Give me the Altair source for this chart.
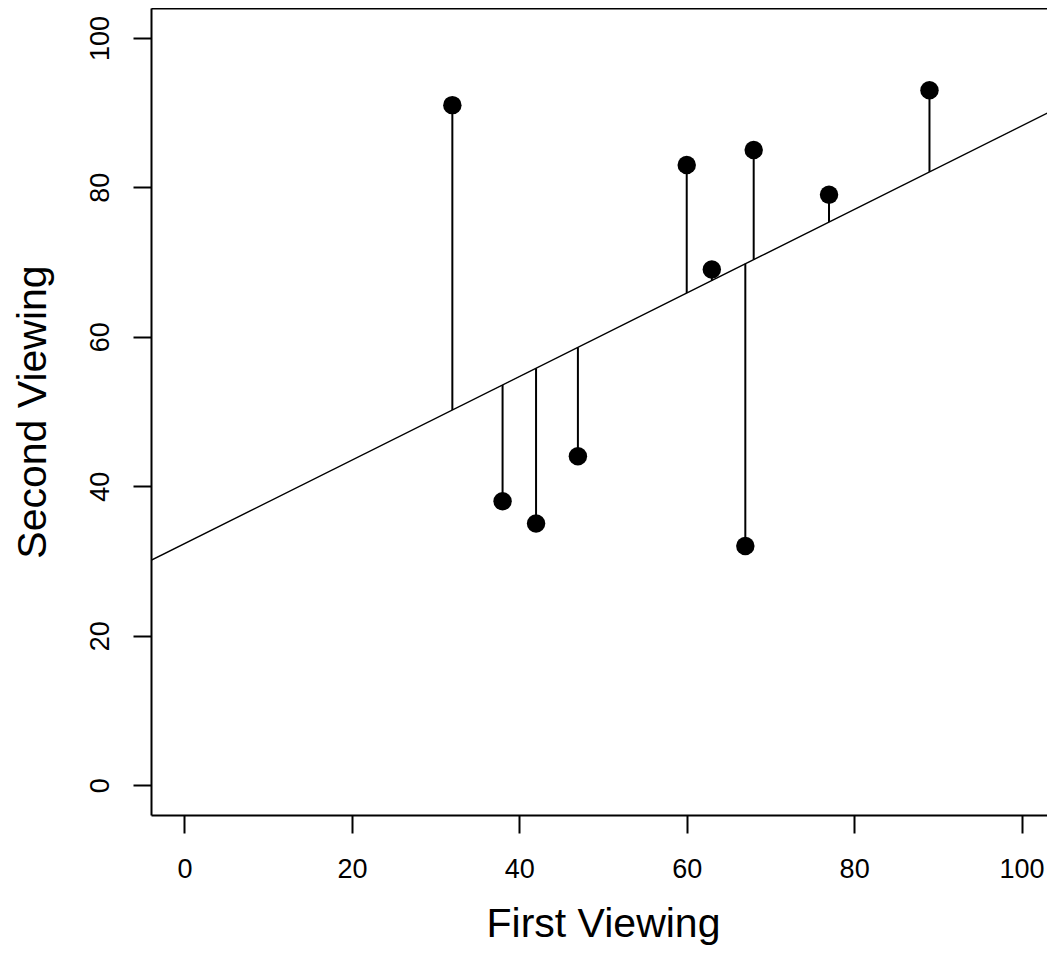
import altair as alt
import pandas as pd
import numpy as np

# Data
first_viewing = [32, 38, 42, 47, 60, 63, 67, 68, 77, 89]
second_viewing = [91, 38, 35, 44, 83, 69, 32, 85, 79, 93]
axis_ticks = [0, 20, 40, 60, 80, 100]
y_limits = [-4, 104]
x_limits = [-4, 103.04]   # plot is cut at the right window edge in the reference
line_extent = [-4, 104]

# Least-squares fit (as abline(lm(...)) in the original)
slope, intercept = np.polyfit(first_viewing, second_viewing, 1)
pts = pd.DataFrame({"x": first_viewing, "y": second_viewing})
pts["fit"] = intercept + slope * pts["x"]
line_df = pd.DataFrame({"x": line_extent})
line_df["fit"] = intercept + slope * line_df["x"]

FONT = "Liberation Sans"

xscale = alt.Scale(domain=x_limits, nice=False, zero=False)
yscale = alt.Scale(domain=y_limits, nice=False, zero=False)

xaxis = alt.Axis(
    values=axis_ticks, title="First Viewing", grid=False,
    domain=True, domainColor="black", domainWidth=2,
    ticks=True, tickSize=18, tickWidth=2, tickColor="black",
    labelFont=FONT, labelFontSize=27, labelColor="black",
    labelBaseline="alphabetic", labelPadding=44, labelFlush=False, labelOverlap=False,
    titleFont=FONT, titleFontSize=41, titleFontWeight="normal", titleColor="black",
    titleX=452, titleY=121, titleAlign="center", titleBaseline="alphabetic",
)
xaxis_top = alt.Axis(
    orient="top", grid=False, domain=True, domainColor="black", domainWidth=2,
    ticks=False, labels=False, title=None,
)
yaxis = alt.Axis(
    values=axis_ticks, title="Second Viewing", grid=False,
    domain=True, domainColor="black", domainWidth=2,
    ticks=True, tickSize=18, tickWidth=2, tickColor="black",
    labelFont=FONT, labelFontSize=27, labelColor="black",
    labelAngle=270, labelAlign="center", labelBaseline="alphabetic",
    labelPadding=25, labelFlush=False, labelOverlap=False,
    titleFont=FONT, titleFontSize=41, titleFontWeight="normal", titleColor="black",
    titleAngle=270, titleX=-106, titleY=403.5, titleAlign="center", titleBaseline="alphabetic",
)

residuals = alt.Chart(pts).mark_rule(color="black", strokeWidth=2).encode(
    x=alt.X("x:Q", scale=xscale, axis=xaxis),
    y=alt.Y("y:Q", scale=yscale, axis=yaxis),
    y2="fit:Q",
)

fit_line = alt.Chart(line_df).mark_line(color="black", strokeWidth=1.5, clip=True).encode(
    x=alt.X("x:Q", scale=xscale, axis=xaxis_top),
    y=alt.Y("fit:Q", scale=yscale, axis=yaxis),
)

points = alt.Chart(pts).mark_circle(color="black", size=340, opacity=1).encode(
    x=alt.X("x:Q", scale=xscale, axis=None),
    y=alt.Y("y:Q", scale=yscale, axis=yaxis),
)

chart = (
    alt.layer(residuals, fit_line, points)
    .resolve_axis(x="independent")
    .properties(
        width=896,
        height=807,
        padding={"left": 143, "top": 0, "right": 0, "bottom": 130},
        autosize=alt.AutoSizeParams(type="none"),
    )
    .configure_view(strokeWidth=0)
)

chart.save("out.html", embed_options={"renderer": "svg", "actions": False})
